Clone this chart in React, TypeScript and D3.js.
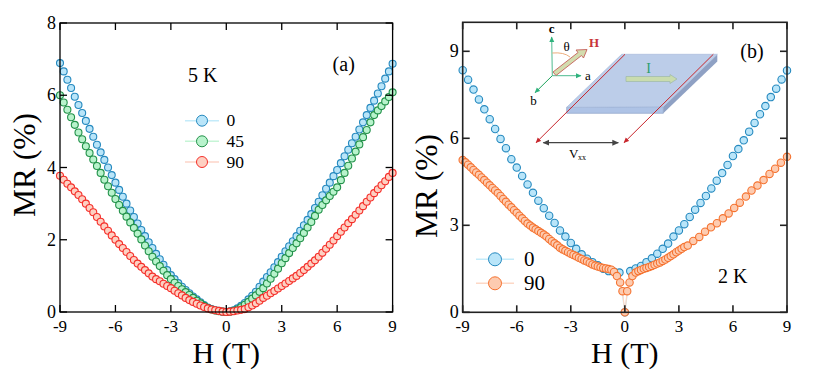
import React from 'react'
import * as d3 from 'd3'

// panel (a) - 5 K
const fieldA = [
  -9, -8.8, -8.6, -8.4, -8.2, -8, -7.8, -7.6, -7.4, -7.2, -7, -6.8, -6.6, -6.4, -6.2,
  -6, -5.8, -5.6, -5.4, -5.2, -5, -4.8, -4.6, -4.4, -4.2, -4, -3.8, -3.6, -3.4, -3.2,
  -3, -2.8, -2.6, -2.4, -2.2, -2, -1.8, -1.6, -1.4, -1.2, -1, -0.8, -0.6, -0.4, -0.2,
  0, 0.2, 0.4, 0.6, 0.8, 1, 1.2, 1.4, 1.6, 1.8, 2, 2.2, 2.4, 2.6, 2.8,
  3, 3.2, 3.4, 3.6, 3.8, 4, 4.2, 4.4, 4.6, 4.8, 5, 5.2, 5.4, 5.6, 5.8,
  6, 6.2, 6.4, 6.6, 6.8, 7, 7.2, 7.4, 7.6, 7.8, 8, 8.2, 8.4, 8.6, 8.8, 9,
]
const mrA0 = [
  6.89, 6.66, 6.43, 6.2, 5.96, 5.73, 5.51, 5.29, 5.07, 4.85, 4.63, 4.42, 4.21, 4, 3.79,
  3.58, 3.38, 3.19, 3, 2.81, 2.63, 2.45, 2.27, 2.1, 1.93, 1.77, 1.61, 1.46, 1.31, 1.16,
  1.02, 0.91, 0.8, 0.7, 0.61, 0.52, 0.43, 0.35, 0.27, 0.19, 0.12, 0.08, 0.05, 0.03, 0.01,
  0, 0.02, 0.05, 0.1, 0.17, 0.25, 0.35, 0.45, 0.56, 0.7, 0.84, 0.97, 1.1, 1.24, 1.38,
  1.53, 1.68, 1.82, 1.96, 2.1, 2.25, 2.4, 2.55, 2.71, 2.88, 3.05, 3.23, 3.41, 3.58, 3.76,
  3.93, 4.12, 4.31, 4.49, 4.67, 4.85, 5.05, 5.25, 5.45, 5.65, 5.85, 6.05, 6.25, 6.46, 6.66, 6.87,
]
const mrA45 = [
  6, 5.8, 5.6, 5.39, 5.18, 4.97, 4.78, 4.59, 4.4, 4.22, 4.04, 3.85, 3.66, 3.48, 3.3,
  3.13, 2.96, 2.8, 2.64, 2.48, 2.33, 2.17, 2.01, 1.84, 1.68, 1.53, 1.4, 1.27, 1.14, 1.02,
  0.91, 0.81, 0.72, 0.63, 0.55, 0.47, 0.39, 0.31, 0.24, 0.17, 0.11, 0.07, 0.04, 0.02, 0.01,
  0, 0.01, 0.03, 0.07, 0.13, 0.2, 0.28, 0.37, 0.46, 0.56, 0.66, 0.79, 0.92, 1.06, 1.2,
  1.35, 1.49, 1.63, 1.77, 1.9, 2.04, 2.19, 2.34, 2.49, 2.66, 2.83, 2.96, 3.09, 3.21, 3.33,
  3.45, 3.65, 3.85, 4.05, 4.25, 4.44, 4.64, 4.84, 5.04, 5.25, 5.45, 5.58, 5.7, 5.83, 5.95, 6.08,
]
const mrA90 = [
  3.77, 3.66, 3.55, 3.45, 3.34, 3.24, 3.12, 3, 2.88, 2.76, 2.63, 2.5, 2.37, 2.25, 2.12,
  2, 1.88, 1.77, 1.66, 1.55, 1.44, 1.34, 1.25, 1.16, 1.07, 0.98, 0.91, 0.85, 0.78, 0.72,
  0.66, 0.59, 0.52, 0.46, 0.39, 0.33, 0.28, 0.23, 0.18, 0.14, 0.1, 0.07, 0.05, 0.03, 0.01,
  0, 0.01, 0.02, 0.04, 0.06, 0.08, 0.13, 0.18, 0.24, 0.31, 0.39, 0.45, 0.52, 0.58, 0.65,
  0.72, 0.79, 0.86, 0.93, 1, 1.08, 1.16, 1.25, 1.34, 1.43, 1.53, 1.64, 1.75, 1.86, 1.98,
  2.1, 2.22, 2.34, 2.46, 2.57, 2.69, 2.81, 2.93, 3.05, 3.17, 3.29, 3.4, 3.51, 3.62, 3.74, 3.85,
]

// panel (b) - 2 K
const fieldB0 = [
  -9, -8.7, -8.4, -8.1, -7.8, -7.5, -7.2, -6.9, -6.6, -6.3, -6, -5.7, -5.4, -5.1, -4.8, -4.5,
  -4.2, -3.9, -3.6, -3.3, -3, -2.7, -2.4, -2.1, -1.8, -1.5, -1.2, -0.9, -0.6, -0.3, 0,
  0.3, 0.6, 0.9, 1.2, 1.5, 1.8, 2.1, 2.4, 2.7, 3, 3.3, 3.6, 3.9, 4.2, 4.5,
  4.8, 5.1, 5.4, 5.7, 6, 6.3, 6.6, 6.9, 7.2, 7.5, 7.8, 8.1, 8.4, 8.7, 9,
]
const mrB0 = [
  8.35, 8.02, 7.68, 7.34, 7, 6.66, 6.32, 5.98, 5.66, 5.28, 4.99, 4.7, 4.41, 4.12, 3.85, 3.59,
  3.33, 3.08, 2.82, 2.61, 2.39, 2.19, 2, 1.85, 1.73, 1.62, 1.5, 1.42, 1.4, 1.37, 0,
  1.42, 1.51, 1.6, 1.73, 1.86, 2.02, 2.19, 2.37, 2.61, 2.82, 3.04, 3.29, 3.54, 3.77, 4.01,
  4.27, 4.54, 4.8, 5.08, 5.39, 5.63, 5.93, 6.23, 6.53, 6.83, 7.11, 7.42, 7.71, 8.03, 8.34,
]
const fieldB90 = [
  -9, -8.85, -8.7, -8.55, -8.4, -8.25, -8.1, -7.95, -7.8, -7.65, -7.5, -7.35, -7.2, -7.05, -6.9,
  -6.75, -6.6, -6.45, -6.3, -6.15, -6, -5.85, -5.7, -5.55, -5.4, -5.25, -5.1, -4.95, -4.8, -4.65,
  -4.5, -4.35, -4.2, -4.05, -3.9, -3.75, -3.6, -3.45, -3.3, -3.15, -3, -2.85, -2.7, -2.55, -2.4,
  -2.25, -2.1, -1.95, -1.8, -1.65, -1.5, -1.35, -1.2, -1.05, -0.9, -0.75, -0.6, -0.44, -0.26, -0.13,
  0, 0.13, 0.26, 0.42, 0.6, 0.75, 0.9, 1.05, 1.2, 1.35, 1.5, 1.65, 1.8, 1.95, 2.1,
  2.25, 2.4, 2.55, 2.7, 2.85, 3, 3.15, 3.3, 3.49, 3.8, 4.13, 4.45, 4.78, 5.11, 5.44,
  5.76, 6.07, 6.38, 6.72, 7.03, 7.36, 7.7, 8.03, 8.34, 8.66, 9,
]
const mrB90 = [
  5.25, 5.17, 5.09, 5, 4.91, 4.82, 4.74, 4.65, 4.56, 4.47, 4.38, 4.29, 4.2, 4.11, 4.01,
  3.91, 3.81, 3.71, 3.62, 3.52, 3.43, 3.33, 3.24, 3.15, 3.06, 2.99, 2.92, 2.86, 2.8, 2.74,
  2.68, 2.61, 2.53, 2.45, 2.38, 2.31, 2.23, 2.17, 2.12, 2.07, 2.02, 1.98, 1.93, 1.88, 1.84,
  1.79, 1.75, 1.7, 1.65, 1.61, 1.58, 1.55, 1.53, 1.51, 1.49, 1.47, 1.39, 1.25, 1.03, 0.73,
  0, 0.73, 1.03, 1.25, 1.37, 1.42, 1.46, 1.5, 1.53, 1.56, 1.6, 1.64, 1.68, 1.72, 1.77,
  1.82, 1.88, 1.94, 2, 2.07, 2.13, 2.19, 2.25, 2.3, 2.46, 2.6, 2.78, 2.93, 3.07, 3.24,
  3.41, 3.6, 3.78, 3.99, 4.2, 4.37, 4.56, 4.77, 4.95, 5.16, 5.36,
]

const fieldTicks = [-9, -6, -3, 0, 3, 6, 9]
const mrTicksA = [0, 2, 4, 6, 8]
const mrTicksB = [0, 3, 6, 9]

const SERIF = '"Liberation Serif", serif'
const BLUE = { fill: '#b9e5f9', stroke: '#2589bf', line: '#c4ebfa' }
const GREEN = { fill: '#b8f3cc', stroke: '#23924a', line: '#c6f5d6' }
const RED = { fill: '#fdd0c2', stroke: '#f52f2a', line: '#fdd5c8' }
const ORANGE = { fill: '#fdcbb0', stroke: '#f5722f', line: '#fdd8c6' }

type Colors = typeof BLUE
type Series = { name: string; h: number[]; mr: number[]; colors: Colors }
type LegendPos = { x0: number; x1: number; textX: number; ys: number[]; r: number; size: number }

function Panel(props: {
  left: number; right: number; top: number; bottom: number
  mrMax: number; mrTicks: number[]; series: Series[]
  r: number; strokeWidth: number; axisColor: string; axisWidth: number
  titleX: number; titleY: number; legend: LegendPos
}) {
  const { left, right, top, bottom, mrMax, mrTicks, series, r, strokeWidth, axisColor, axisWidth, titleX, titleY, legend } = props
  const xScale = d3.scaleLinear().domain([-9, 9]).range([left, right])
  const yScale = d3.scaleLinear().domain([0, mrMax]).range([bottom, top])
  const tickLen = 7
  return (
    <g>
      {series.map(s => {
        const pts = s.h.map((h, i) => [h, s.mr[i]] as [number, number])
        const line = d3.line<[number, number]>().x(d => xScale(d[0])).y(d => yScale(d[1]))
        return (
          <g key={s.name}>
            <path d={line(pts) as string} fill="none" stroke={s.colors.line} strokeWidth={1.2} />
            {pts.map((d, i) => (
              <circle key={i} cx={xScale(d[0])} cy={yScale(d[1])} r={r}
                fill={s.colors.fill} stroke={s.colors.stroke} strokeWidth={strokeWidth} />
            ))}
          </g>
        )
      })}

      <rect x={left} y={top} width={right - left} height={bottom - top} fill="none" stroke={axisColor} strokeWidth={axisWidth} />
      {fieldTicks.map(t => (
        <g key={t}>
          <line x1={xScale(t)} x2={xScale(t)} y1={bottom} y2={bottom - tickLen} stroke={axisColor} strokeWidth={axisWidth} />
          <line x1={xScale(t)} x2={xScale(t)} y1={top} y2={top + tickLen} stroke={axisColor} strokeWidth={axisWidth} />
          <text x={xScale(t)} y={332} fontSize={17} textAnchor="middle" fontFamily={SERIF}>{t}</text>
        </g>
      ))}
      {mrTicks.map(t => (
        <g key={t}>
          <line x1={left} x2={left + tickLen} y1={yScale(t)} y2={yScale(t)} stroke={axisColor} strokeWidth={axisWidth} />
          <line x1={right} x2={right - tickLen} y1={yScale(t)} y2={yScale(t)} stroke={axisColor} strokeWidth={axisWidth} />
          <text x={left - 4} y={yScale(t) + 6} fontSize={18} textAnchor="end" fontFamily={SERIF}>{t}</text>
        </g>
      ))}

      <text x={(left + right) / 2} y={362.5} fontSize={30} textAnchor="middle" fontFamily={SERIF}>H (T)</text>
      <text transform={`translate(${titleX},${titleY}) rotate(-90)`} fontSize={31.5} textAnchor="middle" fontFamily={SERIF}>MR (%)</text>

      {series.map((s, i) => (
        <g key={s.name}>
          <line x1={legend.x0} x2={legend.x1} y1={legend.ys[i]} y2={legend.ys[i]} stroke={s.colors.line} strokeWidth={1.5} />
          <circle cx={(legend.x0 + legend.x1) / 2} cy={legend.ys[i]} r={legend.r} fill={s.colors.fill} stroke={s.colors.stroke} strokeWidth={1} />
          <text x={legend.textX} y={legend.ys[i] + legend.size * 0.32} fontSize={legend.size} fontFamily={SERIF}>{s.name}</text>
        </g>
      ))}
    </g>
  )
}

// sample sketch in the corner of panel (b)
function Inset() {
  return (
    <g fontFamily={SERIF}>
      <defs>
        <marker id="redHead" markerWidth="6" markerHeight="6" refX="5" refY="3" orient="auto">
          <path d="M0,0.5 L5.5,3 L0,5.5 Z" fill="#c8262c" />
        </marker>
        <marker id="greenHead" markerWidth="6" markerHeight="6" refX="5" refY="3" orient="auto">
          <path d="M0,0.5 L5.5,3 L0,5.5 Z" fill="#2fb27d" />
        </marker>
        <marker id="greyHead" markerWidth="6" markerHeight="6" refX="5" refY="3" orient="auto-start-reverse">
          <path d="M0,0.5 L5.5,3 L0,5.5 Z" fill="#444" />
        </marker>
      </defs>
      <polygon points="566.7,107.3 663.3,106.7 663.3,113.3 566.7,113.3" fill="#aec3e6" stroke="#8ea3c8" strokeWidth={0.7} />
      <polygon points="663.3,106.7 717.3,54.3 717.3,61.5 663.3,113.3" fill="#8fa1c4" />
      <polygon points="621.7,54.3 717.3,54.3 663.3,106.7 566.7,107.3" fill="#bccde9" stroke="#a9bcdc" strokeWidth={0.7} />
      <line x1={625} y1={54.3} x2={536} y2={142.7} stroke="#c8262c" strokeWidth={1} markerEnd="url(#redHead)" />
      <line x1={713.3} y1={54.3} x2={624} y2={142.7} stroke="#c8262c" strokeWidth={1} markerEnd="url(#redHead)" />
      <line x1={543.3} y1={142.7} x2={618.3} y2={142.7} stroke="#444" strokeWidth={1.2} markerStart="url(#greyHead)" markerEnd="url(#greyHead)" />
      <text x={569} y={158} fontSize={13}>V</text>
      <text x={578} y={160} fontSize={8}>xx</text>

      <line x1={552.3} y1={75.7} x2={551.7} y2={37} stroke="#4dbb8f" strokeWidth={1} markerEnd="url(#greenHead)" />
      <line x1={552.3} y1={75.7} x2={581} y2={75.7} stroke="#4dbb8f" strokeWidth={1} markerEnd="url(#greenHead)" />
      <line x1={552.3} y1={75.7} x2={535} y2={92.7} stroke="#1ea45c" strokeWidth={1} markerEnd="url(#greenHead)" />
      <path d="M552.3,53 Q564,52 570,57" fill="none" stroke="#e9a36c" strokeWidth={0.9} />
      <polygon points="553,72 578,52.5 576,50 587,49.5 583.5,58 581.5,55.5 556,75.5" fill="#d3dcae" stroke="#c5605a" strokeWidth={0.9} />
      <text x={551.7} y={32.7} fontSize={13} fontWeight="bold" textAnchor="middle">c</text>
      <text x={585} y={80} fontSize={13}>a</text>
      <text x={533.5} y={105} fontSize={13} textAnchor="middle">b</text>
      <text x={566.5} y={50.5} fontSize={13} textAnchor="middle">θ</text>
      <text x={594} y={47} fontSize={13} fontWeight="bold" textAnchor="middle" fill="#c8343a">H</text>

      <polygon points="626,76.5 670,76.5 670,74.5 677,79 670,83.5 670,81.5 626,81.5" fill="#c9dcae" stroke="#9db9a8" strokeWidth={0.7} />
      <text x={648.7} y={73} fontSize={14} textAnchor="middle" fill="#2a9d6e">I</text>
    </g>
  )
}

export default function App() {
  const seriesA: Series[] = [
    { name: '0', h: fieldA, mr: mrA0, colors: BLUE },
    { name: '45', h: fieldA, mr: mrA45, colors: GREEN },
    { name: '90', h: fieldA, mr: mrA90, colors: RED },
  ]
  const seriesB: Series[] = [
    { name: '0', h: fieldB0, mr: mrB0, colors: BLUE },
    { name: '90', h: fieldB90, mr: mrB90, colors: ORANGE },
  ]
  return (
    <svg width={830} height={373} style={{ position: 'absolute', left: 0, top: 0 }}>
      <Panel left={60} right={392.6} top={23} bottom={312} mrMax={8} mrTicks={mrTicksA} series={seriesA}
        r={3.5} strokeWidth={1.1} axisColor="#000" axisWidth={1.3} titleX={35} titleY={165}
        legend={{ x0: 185, x1: 219, textX: 226.5, ys: [120.7, 141.3, 162], r: 5.5, size: 17.5 }} />
      <Panel left={462.7} right={787} top={22.3} bottom={312.3} mrMax={10} mrTicks={mrTicksB} series={seriesB}
        r={3.7} strokeWidth={1.1} axisColor="#222" axisWidth={1.6} titleX={437} titleY={186}
        legend={{ x0: 476, x1: 514, textX: 524, ys: [259.3, 283.3], r: 6.5, size: 21 }} />
      <text x={188} y={82} fontSize={20} fontFamily={SERIF}>5 K</text>
      <text x={343.7} y={70.7} fontSize={20} textAnchor="middle" fontFamily={SERIF}>(a)</text>
      <text x={752} y={58.3} fontSize={20} textAnchor="middle" fontFamily={SERIF}>(b)</text>
      <text x={718} y={283} fontSize={20} fontFamily={SERIF}>2 K</text>
      <Inset />
    </svg>
  )
}
